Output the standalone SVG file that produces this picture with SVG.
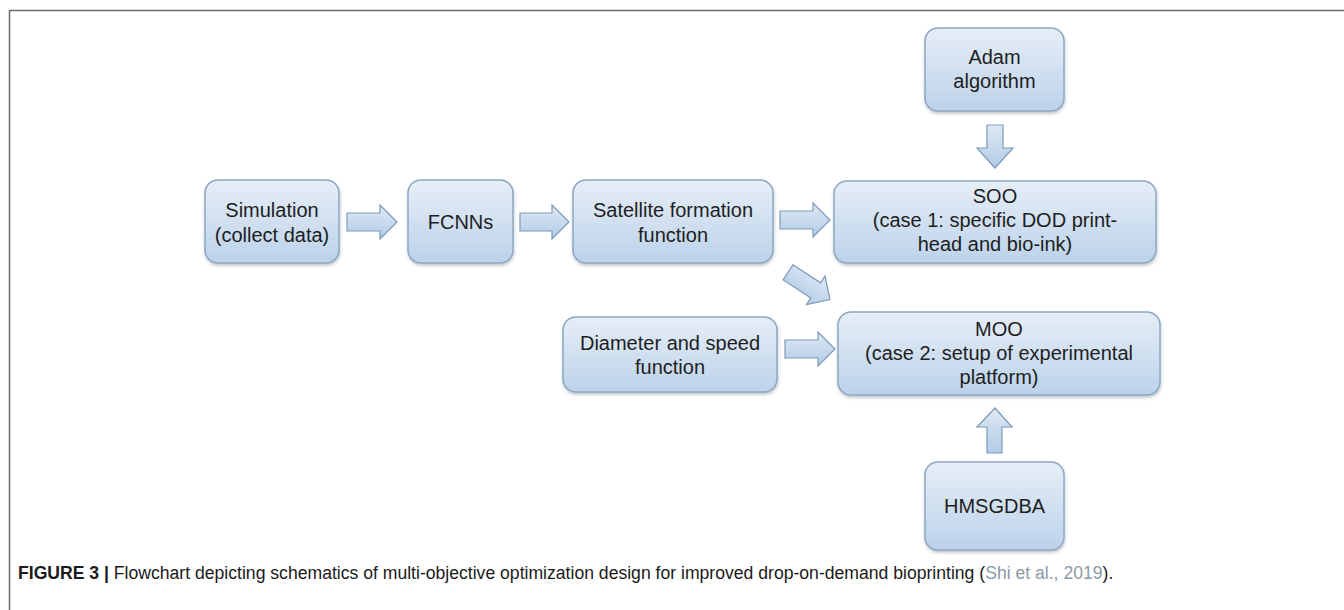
<svg xmlns="http://www.w3.org/2000/svg" width="1344" height="610" viewBox="0 0 1344 610">
<style>
.box{fill:url(#bg);stroke:#8ea8c3;stroke-width:1.5;filter:url(#sh)}
.t{font-family:"Liberation Sans",Arial,sans-serif;font-size:20px;fill:#1e1e1e;text-anchor:middle}
.arr{fill:url(#ag);stroke:#7d9aba;stroke-width:1.2;stroke-linejoin:miter}
.cap{font-family:"Liberation Sans",Arial,sans-serif;font-size:17.6px;fill:#1a1a1a}
</style>
<defs>
<linearGradient id="bg" x1="0" y1="0" x2="0" y2="1">
<stop offset="0" stop-color="#e6eef7"/>
<stop offset="1" stop-color="#bcd2ea"/>
</linearGradient>
<linearGradient id="ag" x1="0" y1="0" x2="0" y2="1">
<stop offset="0" stop-color="#dfe9f4"/>
<stop offset="1" stop-color="#b2cbe6"/>
</linearGradient>
<filter id="sh" x="-10%" y="-10%" width="120%" height="130%">
<feDropShadow dx="0.5" dy="2" stdDeviation="1.5" flood-color="#4a5a6a" flood-opacity="0.35"/>
</filter>
</defs>
<rect width="1344" height="610" fill="#fff"/>
<path d="M9.5 610 V10.5 H1344" fill="none" stroke="#6a6a6a" stroke-width="1.5"/>

<g id="connectors">
<polygon class="arr" points="347,213 380,213 380,205 397,222 380,239 380,231 347,231"/>
<polygon class="arr" points="520,213 552,213 552,205 569,222 552,239 552,231 520,231"/>
<polygon class="arr" points="780,211 813,211 813,203 830,220 813,237 813,229 780,229"/>
<polygon class="arr" points="785,340 818,340 818,332 835,349 818,366 818,358 785,358"/>
<polygon class="arr" transform="rotate(33 809 286)" points="784,277 817,277 817,269 834,286 817,303 817,295 784,295"/>
<polygon class="arr" points="987,125 1003,125 1003,148 1013,148 995,168 977,148 987,148"/>
<polygon class="arr" points="995,408 1012,427 1002,427 1002,453 987,453 987,427 977,427"/>
</g>

<g id="adam">
<rect class="box" x="925" y="28" width="139" height="83" rx="13"/>
<text class="t" x="994.5" y="64">Adam</text>
<text class="t" x="994.5" y="88">algorithm</text>
</g>
<g id="simulation">
<rect class="box" x="205" y="180" width="134" height="83" rx="13"/>
<text class="t" x="272" y="217">Simulation</text>
<text class="t" x="272" y="242">(collect data)</text>
</g>
<g id="fcnns">
<rect class="box" x="408" y="180" width="105" height="83" rx="13"/>
<text class="t" x="460.5" y="229">FCNNs</text>
</g>
<g id="satellite">
<rect class="box" x="573" y="180" width="200" height="83" rx="13"/>
<text class="t" x="673" y="217">Satellite formation</text>
<text class="t" x="673" y="242">function</text>
</g>
<g id="soo">
<rect class="box" x="834" y="181" width="322" height="82" rx="13"/>
<text class="t" x="995" y="203">SOO</text>
<text class="t" x="995" y="227">(case 1: specific DOD print-</text>
<text class="t" x="995" y="251">head and bio-ink)</text>
</g>
<g id="diameter">
<rect class="box" x="563" y="317" width="214" height="75" rx="13"/>
<text class="t" x="670" y="350">Diameter and speed</text>
<text class="t" x="670" y="374">function</text>
</g>
<g id="moo">
<rect class="box" x="838" y="312" width="322" height="83" rx="13"/>
<text class="t" x="999" y="336">MOO</text>
<text class="t" x="999" y="360">(case 2: setup of experimental</text>
<text class="t" x="999" y="384">platform)</text>
</g>
<g id="hmsgdba">
<rect class="box" x="925" y="462" width="139" height="88" rx="13"/>
<text class="t" x="994.5" y="513">HMSGDBA</text>
</g>

<text class="cap" x="18" y="579"><tspan font-weight="bold">FIGURE 3 | </tspan>Flowchart depicting schematics of multi-objective optimization design for improved drop-on-demand bioprinting (<tspan fill="#8c9aa6">Shi et al., 2019</tspan>).</text>
</svg>
